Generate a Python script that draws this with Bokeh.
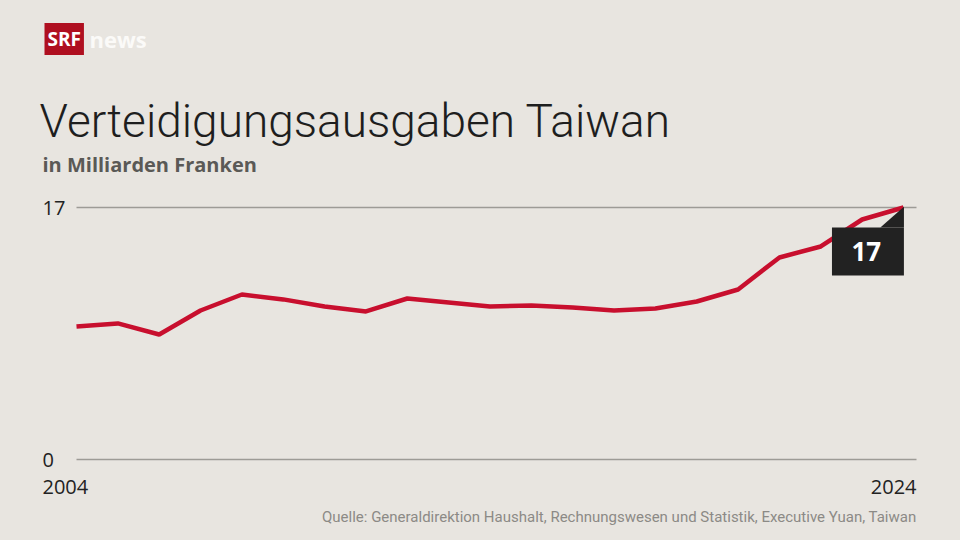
from bokeh.plotting import figure
from bokeh.models import Range1d, Label
from bokeh.embed import file_html
from bokeh.resources import INLINE

# ---- data ----
years = list(range(2004, 2025))
values = [8.97, 9.18, 8.43, 10.05, 11.13, 10.80, 10.32, 9.99, 10.86, 10.59,
          10.32, 10.39, 10.26, 10.05, 10.19, 10.66, 11.47, 13.63, 14.37, 16.19, 17.0]
y_ticks = [0, 17]
y_tick_labels = ["0", "17"]
x_tick_labels = ["2004", "2024"]
title_text = "Verteidigungsausgaben Taiwan"
subtitle_text = "in Milliarden Franken"
source_text = "Quelle: Generaldirektion Haushalt, Rechnungswesen und Statistik, Executive Yuan, Taiwan"
highlight_text = "17"

# ---- styling / geometry ----
BG = "#e8e5e0"
RED = "#c80f2e"
DARK = "#222222"
W, H = 960, 540
X0_PX, PX_PER_YEAR = 76, 41.35
Y0_PX, PX_PER_UNIT = 459, 252 / 17


def dx(px):
    return years[0] + (px - X0_PX) / PX_PER_YEAR


def dy(py):
    return (Y0_PX - py) / PX_PER_UNIT


p = figure(width=W, height=H,
           x_range=Range1d(dx(0), dx(W)),
           y_range=Range1d(dy(H), dy(0)),
           x_axis_location=None, y_axis_location=None,
           toolbar_location=None, output_backend="svg",
           min_border=0)
p.background_fill_color = BG
p.border_fill_color = BG
p.outline_line_color = None
for g in p.grid:
    g.visible = False

# horizontal reference lines at the tick values
grid_end = dx(916)
p.segment(x0=[years[0]] * len(y_ticks), x1=[grid_end] * len(y_ticks),
          y0=y_ticks, y1=y_ticks, line_color="#9d9b96", line_width=1.5)

p.line(years, values, line_color=RED, line_width=4.5)

# highlight callout anchored to the last point
xl, yl = years[-1], values[-1]
p.quad(left=[xl - 1.73], right=[xl + 0.01], top=[yl - 1.35], bottom=[yl - 4.58],
       fill_color=DARK, line_color=None)
p.patch([xl - 0.56, xl + 0.01, xl + 0.01], [yl - 1.35, yl + 0.05, yl - 1.35],
        fill_color=DARK, line_color=None)
p.add_layout(Label(x=xl - 0.9, y=yl - 2.97, text=highlight_text,
                   text_align="center", text_baseline="middle",
                   text_font="Open Sans", text_font_style="bold",
                   text_font_size="26px", text_color="white"))

# y tick labels (left aligned at chart edge)
for t, lab in zip(y_ticks, y_tick_labels):
    p.add_layout(Label(x=dx(42), y=t, text=lab, text_align="left",
                       text_baseline="middle", text_font="Open Sans",
                       text_font_size="20px", text_color=DARK))

# x tick labels
p.add_layout(Label(x=dx(42), y=dy(486), text=x_tick_labels[0], text_align="left",
                   text_baseline="middle", text_font="Open Sans",
                   text_font_size="20px", text_color=DARK))
p.add_layout(Label(x=dx(916), y=dy(486), text=x_tick_labels[1], text_align="right",
                   text_baseline="middle", text_font="Open Sans",
                   text_font_size="20px", text_color=DARK))

# title / subtitle
p.add_layout(Label(x=dx(39), y=dy(120), text=title_text, text_align="left",
                   text_baseline="middle", text_font="Roboto Light, Roboto",
                   text_font_size="46px", text_color="#1e1e1e"))
p.add_layout(Label(x=dx(42), y=dy(164), text=subtitle_text, text_align="left",
                   text_baseline="middle", text_font="Open Sans",
                   text_font_style="bold", text_font_size="20px",
                   text_color="#5a5956"))

# source
p.add_layout(Label(x=dx(916), y=dy(516), text=source_text, text_align="right",
                   text_baseline="middle", text_font="Roboto",
                   text_font_size="15px", text_color="#8c8a86"))

# logo
p.add_layout(Label(x=dx(44), y=dy(38.5), text="SRF", text_align="left",
                   text_baseline="middle", text_font="Open Sans",
                   text_font_style="bold", text_font_size="19px",
                   text_color="white", background_fill_color="#af0f20",
                   padding=3))
p.add_layout(Label(x=dx(89), y=dy(38.5), text="news", text_align="left",
                   text_baseline="middle", text_font="Open Sans",
                   text_font_style="bold", text_font_size="22px",
                   text_color="#fbfaf8"))

html = file_html(p, INLINE)
html = html.replace("<head>", "<head><style>html,body{margin:0;padding:0;background:%s;}</style>" % BG, 1)
open("out.html", "w").write(html)
